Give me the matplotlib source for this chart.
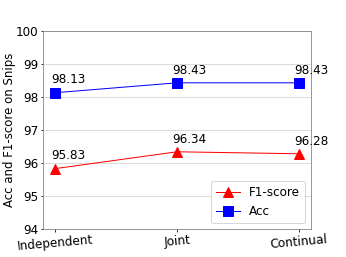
import matplotlib
matplotlib.use("Agg")
import matplotlib.pyplot as plt

stages = ['Independent', 'Joint', 'Continual']
f1 = [95.83, 96.34, 96.28]
acc = [98.13, 98.43, 98.43]

fig = plt.figure(figsize=(346/72, 257/72), dpi=72)
ax = fig.add_axes([43/346, 1 - 229/257, 268/346, 198/257])
x = range(len(stages))

ax.plot(x, f1, color='red', marker='^', markersize=10, linewidth=1, label='F1-score')
ax.plot(x, acc, color='blue', marker='s', markersize=10, linewidth=1, label='Acc')

for i in x:
    ax.text(i - 0.035, f1[i] + 0.28, '%.2f' % f1[i], fontsize=12)
    ax.text(i - 0.035, acc[i] + 0.28, '%.2f' % acc[i], fontsize=12)

ax.set_xlim(-0.1, 2.1)
ax.set_ylim(94, 100)
ax.set_xticks(list(x))
ax.set_xticklabels(stages, rotation=5, fontsize=12)
ax.tick_params(axis='y', labelsize=12, length=2.5, pad=2)
ax.tick_params(axis='x', length=2.5, pad=2)
ax.set_ylabel('Acc and F1-score on Snips', fontsize=11.8)
ax.yaxis.set_label_coords(-0.102, 0.5)
ax.yaxis.grid(True, color='#d3d3d3')
ax.set_axisbelow(True)
for s in ax.spines.values():
    s.set_color('#808080')
ax.legend(loc='lower right', fontsize=12)

fig.savefig('out.png', dpi=72)
